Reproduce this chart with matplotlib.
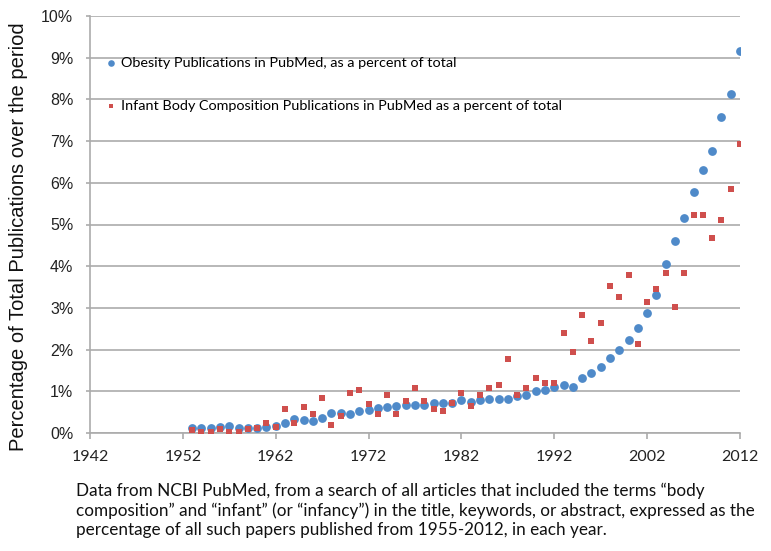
import matplotlib
matplotlib.use("Agg")
import matplotlib.pyplot as plt

# years 1953-2012
years = list(range(1953, 2013))

obesity_pct = [
    0.13, 0.12, 0.13, 0.14, 0.16, 0.13, 0.13, 0.13, 0.14, 0.17,
    0.24, 0.34, 0.32, 0.28, 0.37, 0.48, 0.48, 0.45, 0.52, 0.55,
    0.59, 0.62, 0.65, 0.67, 0.68, 0.68, 0.72, 0.73, 0.72, 0.79,
    0.75, 0.79, 0.81, 0.82, 0.82, 0.88, 0.90, 1.01, 1.02, 1.10,
    1.16, 1.10, 1.33, 1.44, 1.59, 1.81, 1.98, 2.24, 2.52, 2.88,
    3.31, 4.06, 4.60, 5.15, 5.78, 6.30, 6.76, 7.57, 8.12, 9.16,
]

infant_pct = [
    0.08, 0.02, 0.02, 0.09, 0.02, 0.02, 0.09, 0.13, 0.25, 0.15,
    0.58, 0.25, 0.63, 0.45, 0.83, 0.20, 0.40, 0.95, 1.02, 0.70,
    0.45, 0.90, 0.45, 0.77, 1.07, 0.77, 0.58, 0.52, 0.72, 0.95,
    0.64, 0.90, 1.07, 1.15, 1.78, 0.90, 1.08, 1.33, 1.21, 1.21,
    2.39, 1.94, 2.83, 2.20, 2.64, 3.53, 3.27, 3.78, 2.14, 3.14,
    3.46, 3.84, 3.02, 3.84, 5.23, 5.23, 4.67, 5.10, 5.86, 6.94,
]

x_ticks = [1942, 1952, 1962, 1972, 1982, 1992, 2002, 2012]
y_ticks = list(range(0, 11))

label_obesity = "Obesity Publications in PubMed, as a percent of total"
label_infant = "Infant Body Composition Publications in PubMed as a percent of total"
caption = ("Data from NCBI PubMed, from a search of all articles that included the terms \u201cbody\n"
           "composition\u201d and \u201cinfant\u201d (or \u201cinfancy\u201d) in the title, keywords, or abstract, expressed as the\n"
           "percentage of all such papers published from 1955-2012, in each year.")

blue = "#4F8AC9"
red = "#CF4F4D"
gray = "#ABABAB"

fig = plt.figure(figsize=(7.71, 5.51), dpi=100)
ax = fig.add_axes([90 / 771, 1 - 433 / 551, 650 / 771, 417 / 551])

ax.scatter(years, obesity_pct, s=40, color=blue, marker="o", linewidths=0,
           label=label_obesity, zorder=3)
ax.scatter(years, infant_pct, s=16, color=red, marker="s", linewidths=0,
           label=label_infant, zorder=4)

ax.set_xlim(1942, 2012)
ax.set_ylim(0, 10)
ax.set_xticks(x_ticks)
ax.set_xticklabels([str(t) for t in x_ticks], fontfamily="Lato", fontsize=11.5,
                   color="#222222")
ax.set_yticks(y_ticks)
ax.set_yticklabels([f"{t}%" for t in y_ticks], fontfamily="Liberation Sans",
                   fontsize=11.5, color="#222222")

ax.grid(axis="y", color=gray, linewidth=1.2)
ax.set_axisbelow(True)
for side in ["top", "right"]:
    ax.spines[side].set_visible(False)
for side in ["left", "bottom"]:
    ax.spines[side].set_color(gray)
    ax.spines[side].set_linewidth(1.2)
ax.tick_params(axis="y", length=3, color=gray, width=1.2, pad=9)
ax.tick_params(axis="x", length=4, color=gray, width=1.2, pad=8)

ax.set_ylabel("Percentage of Total Publications over the period",
              fontfamily="Liberation Sans", fontsize=14.5, color="#111111")
ax.yaxis.set_label_coords(-0.095, 0.47)

leg = ax.legend(loc="upper left", bbox_to_anchor=(0.024, 0.902), frameon=False,
                prop={"family": "Lato", "size": 10.4}, borderpad=0,
                borderaxespad=0, handlelength=0.8, handletextpad=0.3,
                labelspacing=2.15, markerscale=0.75)

fig.text(76 / 771, 1 - 483 / 551, caption, fontfamily="Lato", fontsize=12.3,
         color="#111111", va="top", ha="left", linespacing=1.24)

fig.savefig("out.png", dpi=100)
